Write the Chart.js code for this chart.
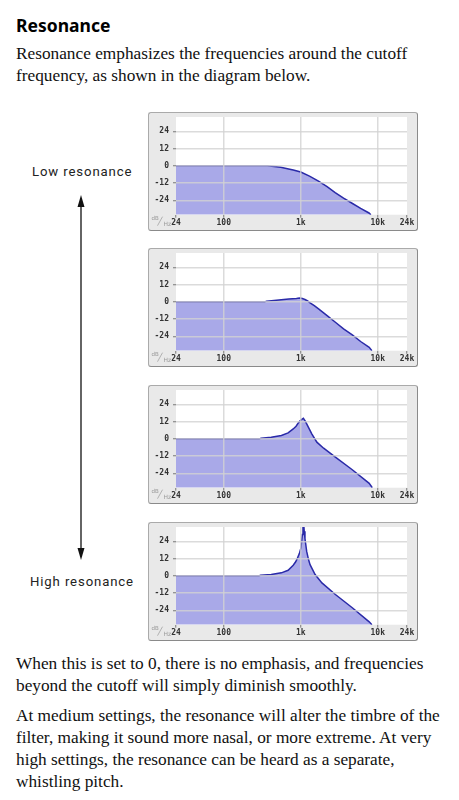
<!DOCTYPE html>
<html>
<head>
<meta charset="utf-8">
<script src="https://cdn.jsdelivr.net/npm/chart.js@4.4.1/dist/chart.umd.min.js"></script>
<style>
  html, body { margin: 0; padding: 0; background: #fff; }
  body { width: 459px; height: 800px; position: relative; overflow: hidden; color: #111; }
  .title { position: absolute; left: 16px; top: 13px; font: 700 17.5px "Noto Sans", sans-serif; line-height: 24px; color: #000; }
  .para { position: absolute; left: 16px; font: 17.3px "Liberation Serif", "Times New Roman", serif; line-height: 22px; white-space: nowrap; color: #111; }
  .side { position: absolute; font: 13.5px Roboto, sans-serif; letter-spacing: 0.9px; color: #222; white-space: nowrap; line-height: 16px; transform-origin: left center; transform: scaleX(0.975); }
  .panel { position: absolute; left: 148px; width: 270px; height: 119px; box-sizing: border-box;
           border: 1px solid #aaa; border-right-color: #8a8a8a; border-bottom-color: #8a8a8a;
           border-radius: 3px; background: #e9e9e9; }
  .panel canvas { position: absolute; left: 0; top: 0; }
  svg { position: absolute; left: 0; top: 0; }
</style>
</head>
<body>
<div class="title">Resonance</div>
<div class="para" style="top:43px">Resonance emphasizes the frequencies around the cutoff<br>frequency, as shown in the diagram below.</div>

<div class="side" style="left:32px; top:163px">Low resonance</div>
<div class="side" style="left:30px; top:573px">High resonance</div>
<svg width="459" height="800">
  <line x1="81" y1="204" x2="81" y2="551" stroke="#111" stroke-width="1.3"/>
  <polygon points="81,195 77.5,207 84.5,207" fill="#111"/>
  <polygon points="81,560 77.5,548 84.5,548" fill="#111"/>
</svg>

<div class="panel" style="top:112px"><canvas id="c1" width="268" height="117"></canvas></div>
<div class="panel" style="top:248px"><canvas id="c2" width="268" height="117"></canvas></div>
<div class="panel" style="top:385px"><canvas id="c3" width="268" height="117"></canvas></div>
<div class="panel" style="top:522px"><canvas id="c4" width="268" height="117"></canvas></div>

<div class="para" style="top:653px">When this is set to 0, there is no emphasis, and frequencies<br>beyond the cutoff will simply diminish smoothly.</div>
<div class="para" style="top:705px">At medium settings, the resonance will alter the timbre of the<br>filter, making it sound more nasal, or more extreme. At very<br>high settings, the resonance can be heard as a separate,<br>whistling pitch.</div>

<script>
// ---- data ----
const xTickValues = [24, 100, 1000, 10000, 24000];
const xTickLabels = ['24', '100', '1k', '10k', '24k'];
const yTickValues = [24, 12, 0, -12, -24];

// Low resonance
const freqLow = [24, 100, 300, 370, 450, 550, 650, 800, 1000, 1300, 1700, 2200, 2800, 3600, 4700, 6000, 7700, 8150];
const dbLow   = [0, 0, 0, 0, -0.4, -1.0, -1.8, -2.9, -4.3, -7.2, -10.6, -14.5, -18.6, -22.5, -26.2, -29.6, -32.8, -34];

// Medium-low resonance
const freqMidLow = [24, 100, 340, 360, 450, 560, 700, 880, 960, 1050, 1135, 1230, 1322, 1500, 1705, 2200, 2820, 3600, 4673, 6000, 7750, 8400];
const dbMidLow   = [0, 0, 0, 0.5, 0.9, 1.4, 1.9, 2.3, 2.6, 2.3, 1.6, 0.6, -0.7, -2.6, -4.9, -9.6, -14.2, -18.8, -23.0, -27.6, -31.7, -34];

// Medium-high resonance
const freqMidHigh = [24, 100, 290, 306, 414, 561, 686, 799, 870, 929, 1000, 1082, 1140, 1195, 1290, 1392, 1620, 1983, 2820, 4673, 7750, 8500];
const dbMidHigh   = [0, 0, 0, 0.5, 1.1, 2.3, 4.1, 6.9, 8.8, 11.0, 13.0, 14.3, 12.5, 10.4, 7.0, 3.5, -2.3, -6.5, -12.7, -21.5, -31.0, -34];

// High resonance
const freqHigh = [24, 100, 285, 300, 414, 561, 686, 799, 860, 910, 960, 1006, 1050, 1070, 1082, 1095, 1110, 1135, 1195, 1260, 1322, 1538, 1885, 2820, 4673, 7750, 8400];
const dbHigh   = [0, 0, 0, 0.4, 0.9, 2.1, 3.9, 7.4, 9.8, 12.5, 15.5, 19.4, 28.7, 36, 33, 36, 31, 26, 17, 11.5, 7.8, 0.9, -4.9, -13.0, -22.2, -32.0, -34];

// ---- style ----
const LINE_COLOR = '#2a2aa8';
const FILL_COLOR = '#a9a9e8';
const GRID_COLOR = 'rgba(210,210,210,0.8)';
const LABEL_FONT = { family: '"DejaVu Sans Mono", monospace', size: 8, weight: 'bold' };

const bgPlugin = {
  id: 'plotBg',
  beforeDraw(chart) {
    const { ctx, chartArea: a } = chart;
    ctx.save();
    ctx.fillStyle = '#ffffff';
    ctx.fillRect(a.left, a.top, a.right - a.left, a.bottom - a.top);
    ctx.restore();
  },
  afterDraw(chart) {
    const { ctx, chartArea: a } = chart;
    ctx.save();
    ctx.fillStyle = '#9a9a9a';
    ctx.strokeStyle = '#9a9a9a';
    ctx.font = '5.5px "DejaVu Sans", sans-serif';
    ctx.textBaseline = 'alphabetic';
    ctx.fillText('dB', 2.5, a.bottom + 5.5);
    ctx.beginPath();
    ctx.lineWidth = 0.7;
    ctx.moveTo(8.5, a.bottom + 11);
    ctx.lineTo(13.5, a.bottom + 2);
    ctx.stroke();
    ctx.font = '6px "DejaVu Sans", sans-serif';
    ctx.fillText('Hz', 14.5, a.bottom + 11);
    ctx.restore();
  }
};

function makeChart(id, freqs, dbs) {
  return new Chart(document.getElementById(id), {
    type: 'line',
    data: {
      datasets: [{
        data: freqs.map((f, i) => ({ x: f, y: dbs[i] })),
        borderColor: LINE_COLOR,
        backgroundColor: FILL_COLOR,
        borderWidth: 1.5,
        fill: 'start',
        pointRadius: 0,
        tension: 0
      }]
    },
    options: {
      responsive: false,
      animation: false,
      devicePixelRatio: 1,
      events: [],
      layout: { padding: { top: 4, right: 10, left: 0, bottom: 0 } },
      plugins: { legend: { display: false }, tooltip: { enabled: false } },
      scales: {
        x: {
          type: 'logarithmic',
          min: 24, max: 24000,
          afterBuildTicks: s => { s.ticks = xTickValues.map(v => ({ value: v })); },
          afterFit: s => { s.height = 15.3; s.paddingLeft = 0; s.paddingRight = 0; },
          ticks: {
            autoSkip: false, maxRotation: 0, minRotation: 0,
            padding: 0.5, color: '#333', font: LABEL_FONT,
            callback: (v) => { const i = xTickValues.indexOf(v); return i >= 0 ? xTickLabels[i] : ''; }
          },
          grid: {
            z: 1,
            lineWidth: 1.5,
            color: c => (c.tick && (c.tick.value === 24 || c.tick.value === 24000)) ? 'rgba(0,0,0,0)' : GRID_COLOR,
            tickColor: '#777', tickLength: 3, tickWidth: 1
          },
          border: { display: false }
        },
        y: {
          min: -34, max: 34,
          afterBuildTicks: s => { s.ticks = yTickValues.map(v => ({ value: v })); },
          afterFit: s => { s.width = 27; s.paddingTop = 0; s.paddingBottom = 0; },
          ticks: { padding: 4, color: '#333', font: LABEL_FONT, callback: v => String(v) },
          grid: { z: 1, lineWidth: 1.5, color: GRID_COLOR, tickColor: '#777', tickLength: 3, tickWidth: 1 },
          border: { display: false }
        }
      }
    },
    plugins: [bgPlugin]
  });
}

makeChart('c1', freqLow, dbLow);
makeChart('c2', freqMidLow, dbMidLow);
makeChart('c3', freqMidHigh, dbMidHigh);
makeChart('c4', freqHigh, dbHigh);
</script>
</body>
</html>
